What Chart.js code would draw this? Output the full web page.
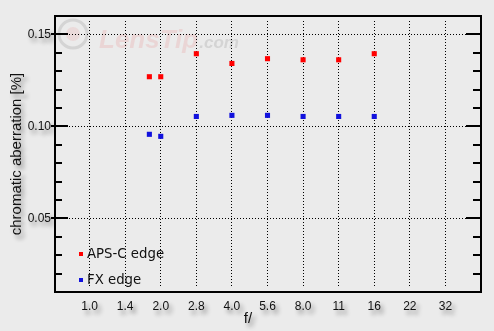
<!DOCTYPE html>
<html><head><meta charset="utf-8">
<script src="https://cdn.jsdelivr.net/npm/chart.js@4.4.1/dist/chart.umd.min.js"></script>
<style>html,body{margin:0;padding:0;background:#ebebeb;}canvas{display:block;}</style>
</head><body>
<canvas id="c" width="494" height="331"></canvas>
<script>
// x axis: aperture stops, equally spaced (position index -> label)
const xTickPositions = [1,2,3,4,5,6,7,8,9,10,11];
const xTickLabels = ['1.0','1.4','2.0','2.8','4.0','5.6','8.0','11','16','22','32'];
// measured apertures and their positions on the stop axis
const fStops = ['1.8','2.0','2.8','4.0','5.6','8.0','11','16'];
const fStopPositions = [2.68,3,4,5,6,7,8,9];
// series values (chromatic aberration, %)
const apscEdge = [0.127,0.127,0.1395,0.1342,0.1368,0.1362,0.1362,0.1395];
const fxEdge = [0.0957,0.0946,0.1054,0.1060,0.1060,0.1054,0.1054,0.1054];
// y ticks
const yMajorTicks = [0.05,0.10,0.15];
const yTickLabels = ['0.05','0.10','0.15'];
const yMinorTicks = [0.02,0.03,0.04,0.06,0.07,0.08,0.09,0.11,0.12,0.13,0.14];
const seriesNames = ['APS-C edge','FX edge'];
const seriesColors = ['#ff0000','#1111dd'];

const toPoints = (vals) => fStopPositions.map((x,i)=>({x:x,y:vals[i]}));

const shadowPlugin = {
  id:'shadowText',
  beforeDraw(chart){
    Object.values(chart.scales).forEach(s=>{
      if (s._shadowPatched) return;
      const origL = s.drawLabels, origT = s.drawTitle;
      const wrap = (fn)=>function(){
        const c=this.ctx; c.save();
        c.shadowColor='rgba(0,0,0,0.45)'; c.shadowOffsetX=3; c.shadowOffsetY=4; c.shadowBlur=4;
        fn.apply(this,arguments); c.restore();
      };
      s.drawLabels = wrap(origL);
      s.drawTitle = wrap(origT);
      s._shadowPatched = true;
    });
  }
};

const framePlugin = {
  id:'frame',
  beforeDatasetsDraw(chart){
    const {ctx, chartArea:a, scales:{x,y}} = chart;
    ctx.save();
    // watermark
    ctx.beginPath(); ctx.arc(a.left+19, a.top+18, 14, 0, Math.PI*2);
    ctx.strokeStyle='rgba(160,160,160,0.3)'; ctx.lineWidth=3; ctx.stroke();
    ctx.beginPath(); ctx.arc(a.left+19, a.top+18, 7, 0, Math.PI*2);
    ctx.fillStyle='rgba(230,160,160,0.22)'; ctx.fill();
    ctx.font='italic bold 26px "Liberation Sans", Arial, sans-serif';
    ctx.fillStyle='rgba(235,170,170,0.33)';
    ctx.fillText('LensTip', a.left+45, a.top+32);
    const w = ctx.measureText('LensTip').width;
    ctx.font='italic bold 17px "Liberation Sans", Arial, sans-serif';
    ctx.fillStyle='rgba(160,160,160,0.3)';
    ctx.fillText('.com', a.left+45+w+1, a.top+32);
    // dotted grid
    ctx.strokeStyle='#000'; ctx.lineWidth=1; ctx.setLineDash([1,2]);
    xTickPositions.forEach(v=>{
      const px = Math.floor(x.getPixelForValue(v)) + 0.5;
      ctx.beginPath(); ctx.moveTo(px, a.top+5); ctx.lineTo(px, a.bottom-4); ctx.stroke();
    });
    yMajorTicks.forEach(v=>{
      const py = Math.floor(y.getPixelForValue(v)) + 0.5;
      ctx.beginPath(); ctx.moveTo(a.left+15, py); ctx.lineTo(a.right-15, py); ctx.stroke();
    });
    ctx.setLineDash([]);
    // tick marks (both sides)
    ctx.lineWidth=2;
    yMajorTicks.forEach(v=>{
      const py = Math.round(y.getPixelForValue(v));
      ctx.beginPath(); ctx.moveTo(a.left-3, py); ctx.lineTo(a.left+14, py);
      ctx.moveTo(a.right-15, py); ctx.lineTo(a.right, py); ctx.stroke();
    });
    yMinorTicks.forEach(v=>{
      const py = Math.round(y.getPixelForValue(v));
      ctx.beginPath(); ctx.moveTo(a.left, py); ctx.lineTo(a.left+8, py);
      ctx.moveTo(a.right-8, py); ctx.lineTo(a.right, py); ctx.stroke();
    });
    // frame
    ctx.strokeRect(a.left+1, a.top, a.right-a.left-1, a.bottom-a.top);
    ctx.restore();
  },
  afterDatasetsDraw(chart){
    const {ctx, chartArea:a} = chart;
    ctx.save();
    ctx.font='13.3px "DejaVu Sans", Verdana, sans-serif';
    ctx.textBaseline='alphabetic';
    chart.data.datasets.forEach((ds,i)=>{
      const top = a.bottom - 40 + i*26;
      ctx.fillStyle = ds.backgroundColor;
      ctx.fillRect(a.left+25, top, 4, 4);
      ctx.fillStyle = '#111';
      ctx.fillText(ds.label, a.left+33, top+6);
    });
    // x axis title
    ctx.font='15px "Liberation Sans", Arial, sans-serif';
    ctx.fillStyle='#111'; ctx.textAlign='center';
    ctx.shadowColor='rgba(0,0,0,0.45)'; ctx.shadowOffsetX=3; ctx.shadowOffsetY=4; ctx.shadowBlur=4;
    ctx.fillText('f/', 248, 323);
    ctx.restore();
  }
};

new Chart(document.getElementById('c'), {
  type:'scatter',
  data:{
    datasets:[
      {label:seriesNames[0], data:toPoints(apscEdge), backgroundColor:seriesColors[0], borderColor:seriesColors[0],
       pointStyle:'rect', pointRadius:3.6, pointHoverRadius:3.6, borderWidth:0, showLine:false},
      {label:seriesNames[1], data:toPoints(fxEdge), backgroundColor:seriesColors[1], borderColor:seriesColors[1],
       pointStyle:'rect', pointRadius:3.6, pointHoverRadius:3.6, borderWidth:0, showLine:false}
    ]
  },
  options:{
    responsive:false, animation:false, devicePixelRatio:1,
    layout:{padding:{top:16,right:13,left:0,bottom:0}},
    plugins:{legend:{display:false}, tooltip:{enabled:false}},
    scales:{
      x:{
        type:'linear', min:0, max:12,
        grid:{display:false, drawTicks:false}, border:{display:false},
        afterBuildTicks:(s)=>{ s.ticks = xTickPositions.map(v=>({value:v})); },
        afterFit:(s)=>{ s.height = 39; },
        ticks:{autoSkip:false, maxRotation:0, padding:7, color:'#111',
          font:{family:'"Liberation Sans", Arial, sans-serif', size:12},
          callback:(v)=>{ const i = xTickPositions.indexOf(v); return i>=0 ? xTickLabels[i] : ''; }}
      },
      y:{
        type:'linear', min:0.01, max:0.16,
        grid:{display:false, drawTicks:false}, border:{display:false},
        afterBuildTicks:(s)=>{ s.ticks = yMajorTicks.map(v=>({value:v})); },
        afterFit:(s)=>{ s.width = 54; },
        ticks:{padding:3, color:'#111',
          font:{family:'"Liberation Sans", Arial, sans-serif', size:12},
          callback:(v)=>{ const i = yMajorTicks.findIndex(t=>Math.abs(t-v)<1e-9); return i>=0 ? yTickLabels[i] : ''; }},
        title:{display:true, text:'chromatic aberration [%]', color:'#111', padding:{top:8,bottom:0},
          font:{family:'"Liberation Sans", Arial, sans-serif', size:15}}
      }
    }
  },
  plugins:[shadowPlugin, framePlugin]
});
</script>
</body></html>
